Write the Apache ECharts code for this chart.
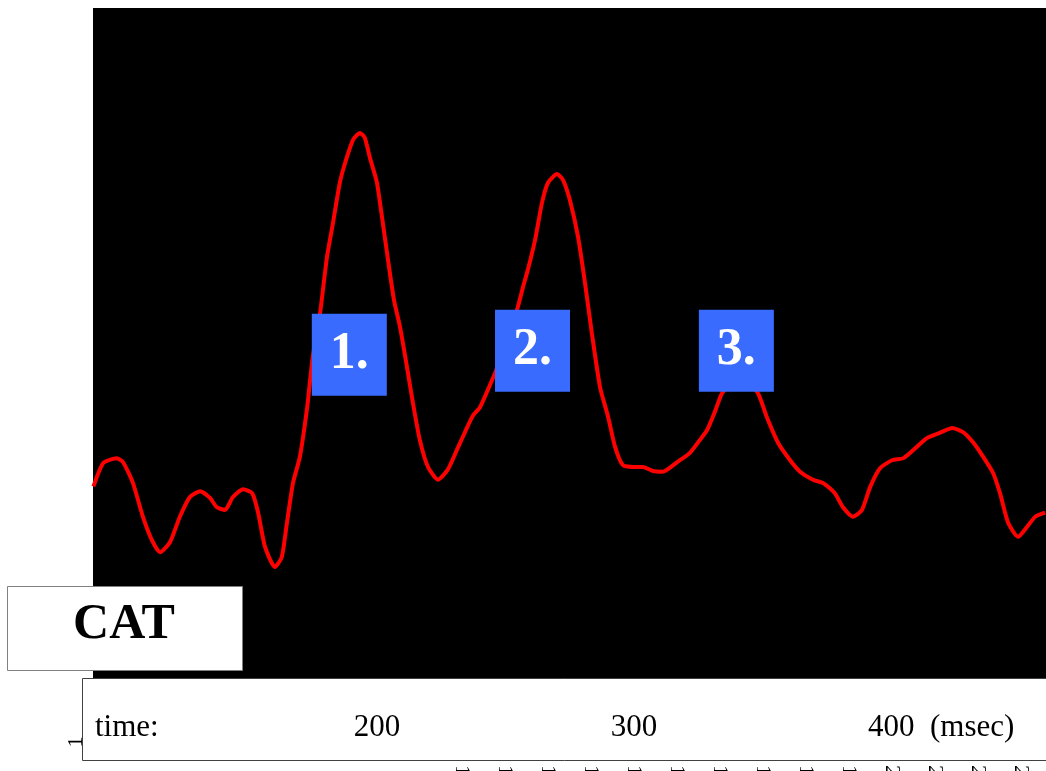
<!DOCTYPE html>
<html>
<head>
<meta charset="utf-8">
<title>CAT</title>
<script src="https://cdn.jsdelivr.net/npm/echarts@6/dist/echarts.min.js"></script>
<style>
  html, body { margin: 0; padding: 0; background: #fff; }
  #chart { width: 1046px; height: 771px; }
</style>
</head>
<body>
<div id="chart"></div>
<script>
// waveform: time (underlying axis units) and amplitude
var times = [14.3, 16.6, 19.7, 21.2, 23.5, 25.8, 27.9, 29.8, 32.1, 34.4,
  36.7, 39.1, 41.4, 43.0, 44.9, 46.7, 49.1, 51.2, 52.6, 54.2,
  56.5, 58.1, 59.3, 60.7, 62.3, 64.0, 65.3, 67.0, 68.6, 70.0,
  71.6, 72.8, 74.7, 76.3, 77.4, 78.6, 80.2, 81.4, 82.8, 84.2,
  85.6, 87.2, 88.6, 90.2, 92.1, 94.4, 96.7, 98.8, 101.2, 102.6,
  104.2, 106.5, 107.7, 110.2, 112.8, 114.2, 115.3, 117.0, 118.6, 120.0,
  122.1, 123.5, 125.1, 127.0, 128.6, 130.2, 132.1, 134.0, 135.6, 137.4,
  139.8, 142.1, 144.4, 146.7, 150.0, 153.0, 155.3, 157.0, 158.8, 160.5,
  164.7, 168.8, 170.9, 173.5, 176.3, 178.6, 181.6, 184.0, 186.7, 188.6,
  190.9, 193.0, 194.9, 197.2, 200.0, 202.6, 204.9, 208.1, 211.2, 214.0,
  216.5, 218.8, 221.2, 223.5, 225.1, 227.0, 229.3, 231.4, 233.3, 235.6];
var amps = [28.8, 32.3, 33.0, 32.4, 29.3, 24.3, 20.8, 19.0, 20.5, 24.3,
  27.2, 28.1, 27.1, 25.7, 25.3, 27.2, 28.4, 27.8, 24.9, 19.8,
  16.8, 18.3, 23.4, 29.3, 33.2, 40.6, 48.1, 54.6, 62.9, 68.0,
  74.0, 76.9, 80.4, 81.4, 80.7, 77.7, 74.1, 68.9, 62.5, 56.5,
  52.5, 46.6, 41.2, 35.7, 31.7, 29.8, 31.3, 34.2, 37.6, 39.4,
  40.6, 43.9, 45.7, 50.3, 55.1, 58.5, 61.0, 65.5, 71.0, 74.0,
  75.3, 74.4, 71.4, 65.9, 59.1, 51.6, 43.6, 39.1, 34.7, 32.0,
  31.7, 31.7, 31.1, 31.0, 32.4, 33.8, 35.7, 37.2, 39.9, 42.7,
  45.8, 42.7, 39.1, 35.3, 32.7, 31.0, 29.8, 29.3, 27.8, 25.7,
  24.3, 25.3, 28.7, 31.5, 32.7, 33.0, 34.2, 36.0, 36.8, 37.5,
  36.9, 35.4, 33.2, 30.8, 27.8, 23.4, 21.3, 22.8, 24.3, 24.9];

// numbered peak labels
var peakNames = ['1.', '2.', '3.'];
var peakTimes = [73.8, 116.4, 163.8];
var peakAmps = [48.4, 49.0, 49.0];

// axis tick values under the plot (mostly cut off by the page edge)
var axisTicks = [100, 110, 120, 130, 140, 150, 160, 170, 180, 190, 200, 210, 220, 230];

// slide caption texts
var wordLabel = 'CAT';
var timeCaption = 'time:';
var timeTicks = ['200', '300', '400  (msec)'];

var serif = '"Liberation Serif", "Times New Roman", serif';

var points = times.map(function (t, i) { return [t, amps[i]]; });
var peaks = peakNames.map(function (n, i) {
  return { name: n, coord: [peakTimes[i], peakAmps[i]] };
});

var chart = echarts.init(document.getElementById('chart'));

chart.setOption({
  backgroundColor: '#fff',
  animation: false,
  grid: {
    left: 93, right: 0, top: 8, bottom: 91,
    show: true,
    backgroundColor: '#000',
    borderWidth: 0,
    outerBoundsMode: 'none'
  },
  xAxis: {
    type: 'value',
    min: 14.2,
    max: 235.8,
    axisLine: { show: false },
    axisTick: { show: false },
    splitLine: { show: false },
    axisLabel: {
      customValues: axisTicks,
      rotate: -90,
      margin: 85,
      fontFamily: serif,
      fontSize: 22,
      color: '#000'
    }
  },
  yAxis: {
    type: 'value',
    min: 0,
    max: 100,
    show: false
  },
  series: [{
    type: 'line',
    data: points,
    showSymbol: false,
    smooth: 0.2,
    lineStyle: { color: '#ff0000', width: 4 },
    markPoint: {
      symbol: 'rect',
      symbolSize: [75, 82],
      itemStyle: { color: '#3a6bff' },
      label: {
        show: true,
        position: 'inside',
        formatter: '{b}',
        color: '#fff',
        fontFamily: serif,
        fontWeight: 'bold',
        fontSize: 52
      },
      data: peaks
    }
  }],
  graphic: [
    {
      type: 'text', x: 76, y: 742, rotation: Math.PI / 2, z: 5,
      style: { text: '1', font: '22px ' + serif, fill: '#000', textAlign: 'center', textVerticalAlign: 'middle' }
    },
    {
      type: 'rect', z: 10,
      shape: { x: 7.5, y: 586.5, width: 235, height: 84 },
      style: { fill: '#fff', stroke: '#808080', lineWidth: 1 }
    },
    {
      type: 'text', x: 124, y: 625, z: 11,
      style: { text: wordLabel, font: 'bold 50px ' + serif, fill: '#000', textAlign: 'center', textVerticalAlign: 'middle' }
    },
    {
      type: 'rect', z: 10,
      shape: { x: 82.5, y: 678.5, width: 980, height: 82 },
      style: { fill: '#fff', stroke: '#404040', lineWidth: 1 }
    },
    {
      type: 'text', x: 95, y: 728, z: 11,
      style: { text: timeCaption, font: '31px ' + serif, fill: '#000', textAlign: 'left', textVerticalAlign: 'middle' }
    },
    {
      type: 'text', x: 377, y: 728, z: 11,
      style: { text: timeTicks[0], font: '31px ' + serif, fill: '#000', textAlign: 'center', textVerticalAlign: 'middle' }
    },
    {
      type: 'text', x: 634, y: 728, z: 11,
      style: { text: timeTicks[1], font: '31px ' + serif, fill: '#000', textAlign: 'center', textVerticalAlign: 'middle' }
    },
    {
      type: 'text', x: 868, y: 728, z: 11,
      style: { text: timeTicks[2], font: '31px ' + serif, fill: '#000', textAlign: 'left', textVerticalAlign: 'middle' }
    }
  ]
});
</script>
</body>
</html>
